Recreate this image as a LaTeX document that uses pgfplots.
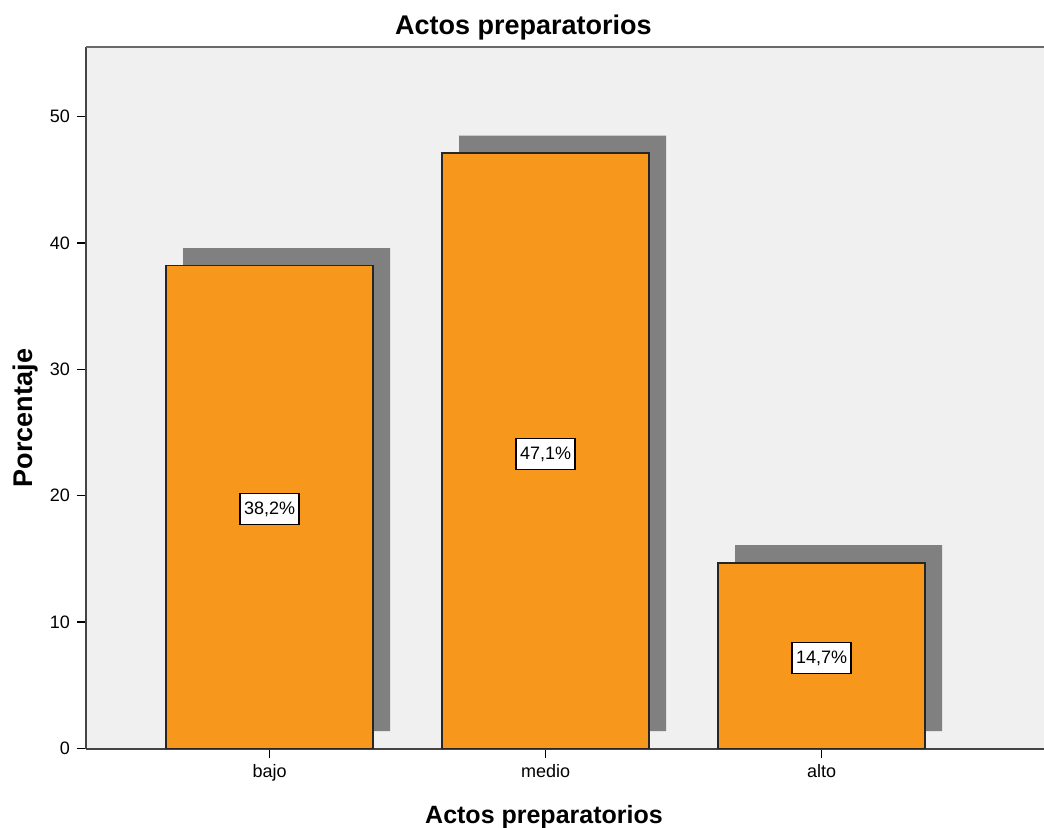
\documentclass[border=0pt]{standalone}
\usepackage{pgfplots}
\pgfplotsset{compat=1.18}
\usepackage{fontspec}
\setmainfont{Liberation Sans}
\definecolor{bgcol}{HTML}{F0F0F0}
\definecolor{barcol}{HTML}{F7981D}
\definecolor{shadcol}{HTML}{808080}
\definecolor{axcol}{HTML}{444444}
\begin{document}
\begin{tikzpicture}
\begin{axis}[
  name=ax,
  scale only axis,
  width=479pt, height=350.75pt,
  xmin=-0.665, xmax=2.806,
  ymin=0, ymax=55.5,
  axis x line=bottom, axis y line=left,
  x axis line style={-, axcol, line width=1pt},
  y axis line style={-, axcol, line width=1pt},
  axis background/.style={fill=bgcol},
  xtick={0,1,2}, xticklabels={bajo,medio,alto},
  ytick={0,10,20,30,40,50},
  tick align=outside,
  major tick length=4.5pt,
  tick style={black, line width=0.7pt},
  ticklabel style={font=\fontsize{9}{10}\selectfont},
  /pgf/number format/assume math mode=true,
  clip=false,
]
\addplot[ybar, bar width=0.75, bar shift=0pt, fill=shadcol, draw=none, xshift=8.5pt, yshift=8.75pt]
  coordinates {(0,38.2) (1,47.1) (2,14.7)};
\addplot[ybar, bar width=0.75, bar shift=0pt, fill=barcol, draw=black!85, line width=0.8pt]
  coordinates {(0,38.2) (1,47.1) (2,14.7)};
\addplot[draw=none, mark=none, nodes near coords, point meta=explicit symbolic,
  nodes near coords style={anchor=center, fill=white, draw=black, line width=0.6pt,
    font=\fontsize{9}{10}\selectfont, inner xsep=2pt, inner ysep=4pt}]
  coordinates {(0,18.95)[38,2\%] (1,23.3)[47,1\%] (2,7.15)[14,7\%]};
\end{axis}
\draw[axcol!80, line width=1.2pt] (ax.north west) -- (ax.north east);
\node[font=\bfseries\fontsize{13.5}{15}\selectfont, anchor=base] at ([xshift=218.75pt, yshift=6pt]ax.north west) {Actos preparatorios};
\node[font=\bfseries\fontsize{12.5}{14}\selectfont, anchor=base] at ([xshift=229pt, yshift=-37.25pt]ax.south west) {Actos preparatorios};
\node[font=\bfseries\fontsize{13.5}{15}\selectfont, anchor=base, rotate=90] at ([xshift=-26.5pt, yshift=165.25pt]ax.south west) {Porcentaje};
\pgfresetboundingbox
\path ([xshift=-43pt,yshift=-39.25pt]ax.south west) rectangle ([yshift=23.5pt]ax.north east);
\end{tikzpicture}
\end{document}
